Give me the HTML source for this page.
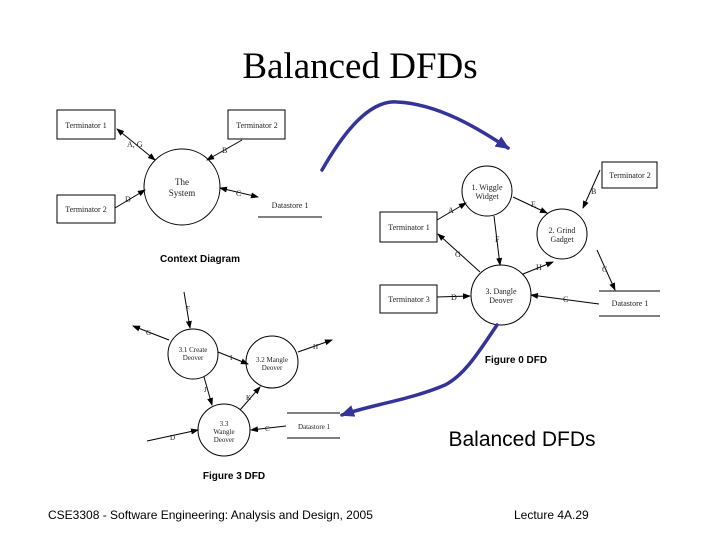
<!DOCTYPE html>
<html><head><meta charset="utf-8"><style>
html,body{margin:0;padding:0;background:#fff;}
svg{display:block}
.s{font-family:"Liberation Serif",serif;font-size:8px;fill:#222}
.b{font-family:"Liberation Sans",sans-serif;font-size:10px;font-weight:bold;fill:#000}
</style></head><body>
<svg width="720" height="540" viewBox="0 0 720 540" xmlns="http://www.w3.org/2000/svg">
<defs>
<marker id="a" markerWidth="8" markerHeight="8" refX="7" refY="4" orient="auto" markerUnits="userSpaceOnUse"><path d="M0,1 L8,4 L0,7 z" fill="#000"/></marker>
<marker id="as" markerWidth="8" markerHeight="8" refX="1" refY="4" orient="auto" markerUnits="userSpaceOnUse"><path d="M8,1 L0,4 L8,7 z" fill="#000"/></marker>
<marker id="bl" markerWidth="14" markerHeight="12" refX="12" refY="6" orient="auto" markerUnits="userSpaceOnUse"><path d="M0,0 L14,6 L0,12 z" fill="#333399"/></marker>
</defs>
<text x="360" y="78" text-anchor="middle" font-family="Liberation Serif,serif" font-size="37">Balanced DFDs</text>

<g stroke="#000" stroke-width="1" fill="none">
<rect x="57" y="110" width="58" height="29"/>
<rect x="228" y="110" width="57" height="29"/>
<rect x="57" y="195" width="58" height="28"/>
<circle cx="182" cy="187" r="38"/>
<line x1="258" y1="217" x2="322" y2="217"/>
<line x1="117" y1="129" x2="155" y2="160" marker-start="url(#as)" marker-end="url(#a)"/>
<line x1="242" y1="140" x2="207" y2="160" marker-end="url(#a)"/>
<line x1="115" y1="208" x2="145" y2="190" marker-end="url(#a)"/>
<line x1="220" y1="188" x2="258" y2="197" marker-start="url(#as)" marker-end="url(#a)"/>
<rect x="380" y="212" width="57" height="30"/>
<rect x="602" y="162" width="55" height="26"/>
<rect x="380" y="285" width="57" height="28"/>
<line x1="599" y1="291" x2="660" y2="291"/>
<line x1="599" y1="316" x2="660" y2="316"/>
<circle cx="487" cy="191" r="25"/>
<circle cx="562" cy="234" r="25"/>
<circle cx="501" cy="295" r="30"/>
<line x1="437" y1="220" x2="466" y2="203" marker-end="url(#a)"/>
<line x1="600" y1="170" x2="583" y2="208" marker-end="url(#a)"/>
<line x1="513" y1="197" x2="547" y2="213" marker-end="url(#a)"/>
<line x1="494" y1="216" x2="500" y2="265" marker-end="url(#a)"/>
<line x1="480" y1="272" x2="438" y2="234" marker-end="url(#a)"/>
<line x1="523" y1="274" x2="553" y2="262" marker-end="url(#a)"/>
<line x1="597" y1="250" x2="615" y2="290" marker-end="url(#a)"/>
<line x1="437" y1="297" x2="470" y2="296" marker-end="url(#a)"/>
<line x1="599" y1="304" x2="531" y2="295" marker-end="url(#a)"/>
<circle cx="193" cy="354" r="25"/>
<circle cx="272" cy="362" r="26"/>
<circle cx="224" cy="430" r="26"/>
<line x1="287" y1="413" x2="340" y2="413"/>
<line x1="287" y1="438" x2="340" y2="438"/>
<line x1="184" y1="292" x2="190" y2="328" marker-end="url(#a)"/>
<line x1="169" y1="340" x2="133" y2="326" marker-end="url(#a)"/>
<line x1="218" y1="352" x2="248" y2="364" marker-end="url(#a)"/>
<line x1="298" y1="352" x2="332" y2="340" marker-end="url(#a)"/>
<line x1="204" y1="377" x2="212" y2="405" marker-end="url(#a)"/>
<line x1="240" y1="410" x2="260" y2="387" marker-end="url(#a)"/>
<line x1="147" y1="441" x2="198" y2="430" marker-end="url(#a)"/>
<line x1="286" y1="426" x2="251" y2="430" marker-end="url(#a)"/>
</g>
<g stroke="#333399" stroke-width="3.5" fill="none" stroke-linecap="round">
<path d="M322,170 C345,130 370,100 397,102 C440,104 480,130 508,148" marker-end="url(#bl)"/>
<path d="M497,325 C480,350 465,375 445,385 C410,400 370,405 342,415" marker-end="url(#bl)"/>
</g>
<g class="s">
<text x="86" y="128" text-anchor="middle">Terminator 1</text>
<text x="257" y="128" text-anchor="middle">Terminator 2</text>
<text x="86" y="212" text-anchor="middle">Terminator 2</text>
<text x="182" y="185" text-anchor="middle" font-size="9">The</text>
<text x="182" y="196" text-anchor="middle" font-size="9">System</text>
<text x="290" y="208" text-anchor="middle">Datastore 1</text>
<text x="127" y="147">A, G</text>
<text x="222" y="153">B</text>
<text x="125" y="202">D</text>
<text x="236" y="196">C</text>
<text x="409" y="230" text-anchor="middle">Terminator 1</text>
<text x="630" y="178" text-anchor="middle">Terminator 2</text>
<text x="409" y="302" text-anchor="middle">Terminator 3</text>
<text x="630" y="306" text-anchor="middle">Datastore 1</text>
<text x="487" y="190" text-anchor="middle">1. Wiggle</text>
<text x="487" y="199" text-anchor="middle">Widget</text>
<text x="562" y="233" text-anchor="middle">2. Grind</text>
<text x="562" y="242" text-anchor="middle">Gadget</text>
<text x="501" y="294" text-anchor="middle">3. Dangle</text>
<text x="501" y="303" text-anchor="middle">Deover</text>
<text x="448" y="213">A</text><text x="591" y="194">B</text><text x="531" y="207">E</text>
<text x="495" y="242">F</text><text x="455" y="257">G</text><text x="536" y="270">H</text>
<text x="602" y="272">C</text><text x="451" y="300">D</text><text x="563" y="302">C</text>
<text x="193" y="352" text-anchor="middle" font-size="7">3.1 Create</text>
<text x="193" y="360" text-anchor="middle" font-size="7">Deover</text>
<text x="272" y="362" text-anchor="middle" font-size="7">3.2 Mangle</text>
<text x="272" y="370" text-anchor="middle" font-size="7">Deover</text>
<text x="224" y="426" text-anchor="middle" font-size="7">3.3</text>
<text x="224" y="434" text-anchor="middle" font-size="7">Wangle</text>
<text x="224" y="442" text-anchor="middle" font-size="7">Deover</text>
<text x="314" y="429" text-anchor="middle" font-size="7">Datastore 1</text>
<text x="186" y="311" font-size="7">F</text><text x="146" y="335" font-size="7">G</text>
<text x="230" y="360" font-size="7">I</text><text x="313" y="349" font-size="7">H</text>
<text x="204" y="392" font-size="7">J</text><text x="246" y="400" font-size="7">K</text>
<text x="170" y="440" font-size="7">D</text><text x="265" y="431" font-size="7">C</text>
</g>
<text x="200" y="262" text-anchor="middle" class="b">Context Diagram</text>
<text x="516" y="363" text-anchor="middle" class="b">Figure 0 DFD</text>
<text x="234" y="479" text-anchor="middle" class="b" font-size="9">Figure 3 DFD</text>
<text x="522" y="446" text-anchor="middle" font-family="Liberation Sans,sans-serif" font-size="21">Balanced DFDs</text>
<text x="48" y="519" font-family="Liberation Sans,sans-serif" font-size="12">CSE3308 - Software Engineering: Analysis and Design, 2005</text>
<text x="514" y="519" font-family="Liberation Sans,sans-serif" font-size="12">Lecture 4A.29</text>
</svg>
</body></html>
